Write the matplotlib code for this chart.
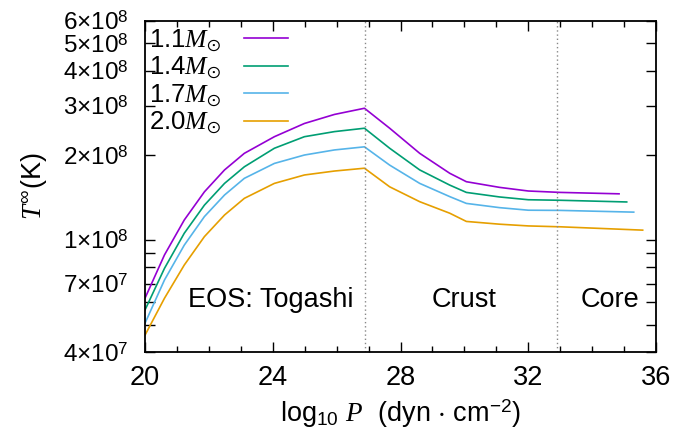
import matplotlib
matplotlib.use("Agg")
import matplotlib.pyplot as plt
import numpy as np
from matplotlib.ticker import FixedLocator, NullFormatter

plt.rcParams['font.family'] = ['Liberation Sans', 'DejaVu Sans']
plt.rcParams['font.size'] = 19.5
plt.rcParams['mathtext.fontset'] = 'custom'
plt.rcParams['mathtext.rm'] = 'Liberation Sans'
plt.rcParams['mathtext.it'] = 'Liberation Serif:italic'
plt.rcParams['mathtext.fallback'] = 'stix'

# log10 P grid shared by all stars (last point differs per mass)
logP = [20.0, 20.61, 21.23, 21.86, 22.49, 23.11, 24.05, 24.99, 25.93, 26.87,
        27.66, 28.60, 29.54, 30.06, 31.10, 32.00, 33.00]
logP_end = {'1.1': 34.84, '1.4': 35.08, '1.7': 35.30, '2.0': 35.58}

# surface-redshifted temperature profiles, units of 1e8 K
T_11 = [0.621, 0.885, 1.178, 1.483, 1.774, 2.032, 2.328, 2.594, 2.793, 2.938,
        2.495, 2.032, 1.726, 1.611, 1.538, 1.493, 1.476, 1.459]
T_14 = [0.564, 0.793, 1.057, 1.330, 1.589, 1.820, 2.118, 2.328, 2.427, 2.495,
        2.118, 1.774, 1.567, 1.476, 1.422, 1.390, 1.384, 1.365]
T_17 = [0.506, 0.721, 0.959, 1.211, 1.445, 1.656, 1.871, 2.004, 2.089, 2.143,
        1.845, 1.589, 1.426, 1.349, 1.303, 1.276, 1.274, 1.256]
T_20 = [0.459, 0.621, 0.815, 1.028, 1.227, 1.406, 1.589, 1.702, 1.758, 1.799,
        1.545, 1.368, 1.245, 1.164, 1.138, 1.122, 1.114, 1.084]

masses = ['1.1', '1.4', '1.7', '2.0']
profiles = [T_11, T_14, T_17, T_20]
colors = ['#9400d3', '#009e73', '#56b4e9', '#e69f00']

crust_edge = 26.9
core_edge = 32.9

fig = plt.figure(figsize=(6.75, 4.37), dpi=100)
ax = fig.add_axes([0.2148, 0.1945, 0.7572, 0.7575])

for m, T, c in zip(masses, profiles, colors):
    x = logP + [logP_end[m]]
    ax.plot(x, np.array(T) * 1e8, color=c, lw=1.2,
            label=r'%s$\mathit{M}_{\odot}$' % m)

ax.axvline(crust_edge, color='#888888', lw=1.0, ls=(0, (1, 2)))
ax.axvline(core_edge, color='#888888', lw=1.0, ls=(0, (1, 2)))

ax.set_yscale('log')
ax.set_xlim(20, 36)
ax.set_ylim(4e7, 6e8)

ax.set_xticks([20, 24, 28, 32, 36])
ax.xaxis.set_minor_locator(FixedLocator(np.arange(20, 37, 1)))

yt = [4e7, 7e7, 1e8, 2e8, 3e8, 4e8, 5e8, 6e8]
ylab = ['4×10$^{7}$', '7×10$^{7}$', '1×10$^{8}$', '2×10$^{8}$',
        '3×10$^{8}$', '4×10$^{8}$', '5×10$^{8}$', '6×10$^{8}$']
ax.yaxis.set_major_locator(FixedLocator(yt))
ax.set_yticklabels(ylab, fontsize=17.5)
ax.yaxis.set_minor_locator(FixedLocator([5e7, 6e7, 8e7, 9e7]))
ax.yaxis.set_minor_formatter(NullFormatter())

ax.tick_params(which='both', direction='in', top=True, right=True, width=1.0)
ax.tick_params(which='major', length=7)
ax.tick_params(axis='x', which='major', pad=9)
ax.tick_params(axis='y', which='major', pad=12)
ax.tick_params(axis='y', which='minor', length=7)
ax.tick_params(axis='x', which='minor', length=4)
for s in ax.spines.values():
    s.set_linewidth(1.3)

ax.set_xlabel(r'log$_{10}$ $\mathit{P}$  (dyn $\cdot$ cm$^{-2}$)', labelpad=5)
ax.set_ylabel(r'$\mathit{T}^{\infty}$(K)', labelpad=10)

ax.text(23.93, 6.1e7, 'EOS: Togashi', ha='center', va='center')
ax.text(30.0, 6.1e7, 'Crust', ha='center', va='center')
ax.text(34.55, 6.1e7, 'Core', ha='center', va='center')

ax.legend(loc='upper left', bbox_to_anchor=(0.005, 0.985), frameon=False,
          markerfirst=False, fontsize=18.5, handlelength=1.7,
          handletextpad=0.9, labelspacing=0.04,
          borderaxespad=0.0, borderpad=0.05)

fig.savefig('out.png', dpi=100)
